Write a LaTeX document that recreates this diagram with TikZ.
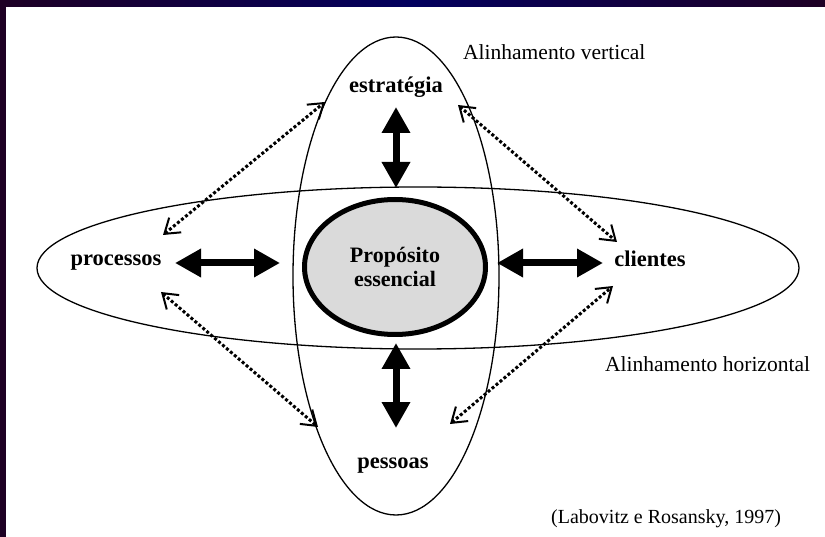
\documentclass[tikz,border=0pt]{standalone}
\usepackage{fontspec}
\setmainfont{Liberation Serif}
\usetikzlibrary{arrows.meta,shapes.geometric}
\definecolor{framedark}{HTML}{1E0024}
\definecolor{framenavy}{HTML}{02005E}
\definecolor{coregray}{HTML}{DADADA}
\begin{document}
\begin{tikzpicture}[x=1pt,y=-1pt,
  outline/.style={draw, ellipse, line width=1.3pt, inner sep=0pt},
  lbl/.style={font=\fontsize{22.5}{24}\selectfont\bfseries, inner sep=0pt, anchor=base},
  note/.style={font=\fontsize{21.5}{24}\selectfont, inner sep=0pt, anchor=base west},
  bigarrow/.style={line width=7pt, {Triangle[length=26pt,width=27pt]}-{Triangle[length=26pt,width=27pt]}},
  dotarrow/.style={line width=3pt, dash pattern=on 3pt off 2.2pt,
    {Straight Barb[length=14pt,width=19pt,line width=2pt]}-{Straight Barb[length=14pt,width=19pt,line width=2pt]}}
]
\fill[white] (0,0) rectangle (825,537);
\useasboundingbox (0,0) rectangle (825,537);
\shade[left color=framedark, right color=framedark, middle color=framenavy] (0,0) rectangle (825,7);
\fill[framedark] (0,0) rectangle (6,537);

\node[outline, minimum width=762pt, minimum height=162pt] (horiz) at (418,268) {};
\node[outline, minimum width=206pt, minimum height=478pt] (vert) at (396,276) {};
\node[ellipse, draw, line width=5pt, fill=coregray, minimum width=181pt, minimum height=135pt,
  inner sep=0pt, align=center, font=\fontsize{22}{23.5}\selectfont\bfseries] (core) at (395,267) {Propósito\\essencial};

\node[lbl] (estr) at (396,93) {estratégia};
\node[lbl] (proc) at (116,266) {processos};
\node[lbl] (cli) at (650,267) {clientes};
\node[lbl] (pess) at (393,468) {pessoas};

\node[note] (av) at (463,60) {Alinhamento vertical};
\node[note] (ah) at (605,371) {Alinhamento horizontal};
\node[note, font=\fontsize{20}{24}\selectfont] (ref) at (551,523) {(Labovitz e Rosansky, 1997)};

% thick arrow ends
\coordinate (vt1) at (396,107);
\coordinate (vt2) at (396,188);
\coordinate (vb1) at (396,343);
\coordinate (vb2) at (396,428);
\coordinate (hl1) at (175,263);
\coordinate (hl2) at (280,263);
\coordinate (hr1) at (497,263);
\coordinate (hr2) at (603,263);
\draw[bigarrow] (vt1) -- (vt2);
\draw[bigarrow] (vb1) -- (vb2);
\draw[bigarrow] (hl1) -- (hl2);
\draw[bigarrow] (hr1) -- (hr2);

% dotted arrow ends
\coordinate (tl1) at (163,235);
\coordinate (tl2) at (325,102);
\coordinate (tr1) at (458,105);
\coordinate (tr2) at (617,242);
\coordinate (bl1) at (161,292);
\coordinate (bl2) at (318,427);
\coordinate (br1) at (450,424);
\coordinate (br2) at (613,286);
\draw[dotarrow] (tl1) -- (tl2);
\draw[dotarrow] (tr1) -- (tr2);
\draw[dotarrow] (bl1) -- (bl2);
\draw[dotarrow] (br1) -- (br2);
\end{tikzpicture}
\end{document}
